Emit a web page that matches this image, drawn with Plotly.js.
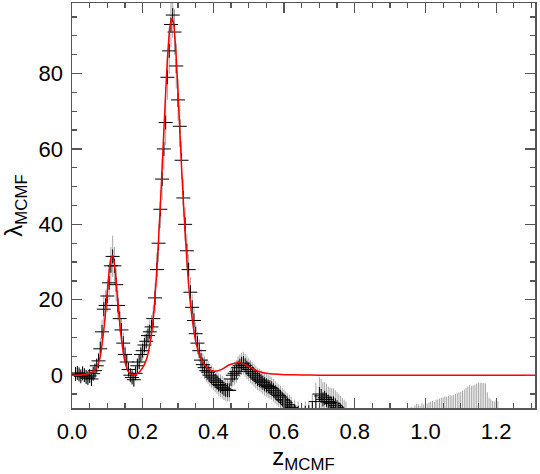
<!DOCTYPE html>
<html>
<head>
<meta charset="utf-8">
<script src="https://cdn.plot.ly/plotly-3.0.1.min.js"></script>
<style>
  body { margin: 0; background: #fff; }
  #plot { width: 540px; height: 474px; }
</style>
</head>
<body>
<div id="plot"></div>
<script>
// measured lambda_MCMF vs z (crosses with error bars)
const zObs = [
  0.010, 0.015, 0.020, 0.025, 0.030, 0.035, 0.040, 0.045, 0.050, 0.055,
  0.060, 0.065, 0.070, 0.075, 0.080, 0.085, 0.090, 0.095, 0.100, 0.105,
  0.110, 0.115, 0.120, 0.125, 0.130, 0.135, 0.140, 0.145, 0.150, 0.155,
  0.160, 0.165, 0.170, 0.175, 0.180, 0.185, 0.190, 0.195, 0.200, 0.205,
  0.210, 0.215, 0.220, 0.225, 0.230, 0.235, 0.240, 0.245, 0.250, 0.255,
  0.260, 0.265, 0.270, 0.275, 0.280, 0.285, 0.290, 0.295, 0.300, 0.305,
  0.310, 0.315, 0.320, 0.325, 0.330, 0.335, 0.340, 0.345, 0.350, 0.355,
  0.360, 0.365, 0.370, 0.375, 0.380, 0.385, 0.390, 0.395, 0.400, 0.405,
  0.410, 0.415, 0.420, 0.425, 0.430, 0.435, 0.440, 0.445, 0.450, 0.455,
  0.460, 0.465, 0.470, 0.475, 0.480, 0.485, 0.490, 0.495, 0.500, 0.505,
  0.510, 0.515, 0.520, 0.525, 0.530, 0.535, 0.540, 0.545, 0.550, 0.555,
  0.560, 0.565, 0.570, 0.575, 0.580, 0.585, 0.590, 0.595, 0.600, 0.605,
  0.610, 0.615, 0.620, 0.630, 0.640, 0.650, 0.660, 0.670, 0.680, 0.690,
  0.700, 0.705, 0.710, 0.715, 0.720, 0.725, 0.730, 0.735, 0.740, 0.745,
  0.750, 0.755, 0.760, 0.765, 0.770, 0.775
];
const lamObs = [
  0.3, 0.6, 0.2, -0.3, 0.5, 0.0, -0.5, -0.8, -0.2, -1.0,
  0.4, 1.2, 2.5, 3.8, 7.0, 11.5, 17.5, 18.5, 21.0, 24.5,
  29.0, 31.5, 29.0, 24.0, 18.5, 15.0, 12.0, 8.5, 5.5, 3.5,
  1.5, 0.0, -0.6, -1.2, 0.5, 2.5, 3.5, 5.5, 6.5, 8.0,
  9.0, 10.5, 11.5, 12.8, 15.0, 20.5, 28.0, 35.0, 44.0, 52.0,
  60.0, 67.0, 79.0, 86.0, 93.0, 95.5, 91.0, 82.0, 73.0, 66.0,
  57.0, 47.0, 40.0, 33.0, 28.0, 22.0, 18.0, 14.5, 11.0, 8.5,
  6.5, 4.0, 2.8, 2.0, 1.2, 0.8, 0.0, -0.5, -1.0, -1.5,
  -1.9, -2.5, -2.8, -3.2, -3.6, -3.9, -4.0, -4.0, -1.0, 0.0,
  0.5, 1.0, 2.0, 2.5, 3.0, 3.2, 2.6, 2.0, 1.5, 1.0,
  0.5, 0.0, -0.5, -1.0, -1.3, -1.6, -2.0, -2.4, -2.7, -3.0,
  -3.2, -3.5, -4.0, -4.5, -5.0, -5.4, -5.8, -6.4, -6.8, -7.3,
  -7.8, -8.2, -8.6, -9.5, -10.0, -10.5, -10.0, -9.8, -9.0, -7.0,
  -5.0, -5.5, -6.4, -6.0, -6.5, -7.0, -7.3, -7.5, -7.5, -8.0,
  -8.5, -9.0, -9.5, -10.0, -10.5, -11.0
];
const errObs = [
  1.5, 1.5, 1.5, 1.5, 1.5, 1.5, 1.5, 1.5, 1.6, 1.6,
  1.6, 1.8, 2.0, 2.2, 2.8, 3.2, 3.8, 4.0, 4.2, 4.5,
  5.0, 5.5, 5.0, 4.5, 4.0, 3.6, 3.2, 2.8, 2.4, 2.0,
  1.8, 1.6, 1.6, 1.6, 1.8, 2.0, 2.2, 2.4, 2.6, 2.8,
  3.0, 3.0, 3.2, 3.2, 3.5, 4.0, 4.5, 5.0, 5.0, 5.5,
  5.5, 6.0, 6.0, 6.0, 6.0, 6.0, 6.0, 6.0, 5.5, 5.5,
  5.0, 5.0, 4.5, 4.5, 4.0, 4.0, 3.5, 3.5, 3.0, 3.0,
  3.0, 3.0, 3.0, 3.0, 3.0, 3.0, 3.0, 3.0, 3.0, 3.0,
  3.0, 3.0, 3.0, 3.0, 3.0, 3.0, 3.0, 3.0, 3.0, 3.0,
  3.0, 3.0, 3.0, 3.0, 3.0, 3.0, 3.0, 3.0, 3.0, 3.0,
  3.0, 3.0, 3.0, 3.0, 3.0, 3.0, 3.0, 3.0, 3.0, 3.0,
  3.0, 3.0, 3.0, 3.0, 3.0, 3.0, 3.0, 3.0, 3.0, 3.0,
  3.0, 3.0, 3.0, 3.0, 3.0, 3.0, 3.0, 3.0, 4.0, 5.0,
  4.5, 4.5, 4.5, 4.2, 4.2, 4.0, 4.0, 4.0, 4.0, 4.0,
  4.0, 4.0, 4.0, 4.0, 4.0, 4.0
];

// high-z group: centres fall below the plot, only the bar tops show
const zFar = [
  0.960, 0.965, 0.970, 0.975, 0.980, 0.985, 0.990, 0.995, 1.000, 1.005,
  1.010, 1.015, 1.020, 1.025, 1.030, 1.035, 1.040, 1.045, 1.050, 1.055,
  1.060, 1.065, 1.070, 1.075, 1.080, 1.085, 1.090, 1.095, 1.100, 1.105,
  1.110, 1.115, 1.120, 1.125, 1.130, 1.135, 1.140, 1.145, 1.150, 1.155,
  1.160, 1.165, 1.170, 1.175, 1.180, 1.185, 1.190, 1.195, 1.200, 1.205
];
const lamFar = [
  -15, -15, -15, -15, -15, -15, -15, -15, -15, -15,
  -15, -15, -15, -15, -15, -15, -15, -15, -15, -15,
  -15, -15, -15, -15, -15, -15, -15, -15, -15, -15,
  -15, -15, -15, -15, -15, -15, -15, -15, -15, -15,
  -15, -15, -15, -15, -15, -15, -15, -15, -15, -15
];
const errFar = [
  6.6, 6.4, 7.0, 7.4, 7.3, 6.8, 7.6, 7.2, 8.4, 7.5,
  7.8, 8.0, 8.2, 7.9, 8.5, 8.6, 8.8, 9.0, 9.1, 9.4,
  9.2, 9.5, 9.7, 9.6, 9.8, 10.0, 10.2, 10.4, 10.6, 10.8,
  11.2, 11.6, 12.0, 12.4, 12.1, 12.3, 12.5, 12.8, 13.0, 13.0,
  13.0, 12.9, 12.8, 10.5, 9.0, 8.6, 8.2, 8.0, 8.4, 8.1
];

// red model curve
const zFit = [
  0.000, 0.030, 0.050, 0.060, 0.070, 0.080, 0.090, 0.100, 0.105, 0.110,
  0.115, 0.120, 0.125, 0.130, 0.140, 0.150, 0.160, 0.170, 0.180, 0.190,
  0.200, 0.210, 0.220, 0.230, 0.240, 0.250, 0.260, 0.270, 0.278, 0.283,
  0.288, 0.295, 0.300, 0.310, 0.320, 0.330, 0.340, 0.350, 0.360, 0.370,
  0.380, 0.390, 0.400, 0.410, 0.420, 0.430, 0.440, 0.450, 0.460, 0.470,
  0.480, 0.490, 0.500, 0.510, 0.520, 0.530, 0.550, 0.570, 0.600, 0.650,
  0.700, 0.800, 1.000, 1.310
];
const lamFit = [
  0.0, 0.1, 0.5, 1.0, 2.0, 5.0, 12.0, 22.0, 27.5, 31.0,
  31.8, 29.5, 25.0, 19.0, 9.5, 3.5, 0.8, 0.1, 0.2, 0.8,
  2.0, 4.0, 8.0, 15.0, 28.0, 45.0, 65.0, 84.0, 93.0, 94.6,
  93.0, 84.0, 75.0, 55.0, 38.0, 24.0, 15.0, 9.0, 5.5, 3.5,
  2.2, 1.4, 1.1, 1.1, 1.4, 1.9, 2.5, 2.9, 3.2, 3.3,
  3.2, 2.8, 2.3, 1.8, 1.3, 0.9, 0.5, 0.3, 0.15, 0.05,
  0.0, 0.0, 0.0, 0.0
];

const barColor = "rgba(0,0,0,0.35)";
const fontFamily = "Liberation Sans, Arial, sans-serif";

const data = [
  {
    x: zFar, y: lamFar, type: "scatter", mode: "markers",
    marker: { symbol: "cross-thin", size: 10, line: { color: "black", width: 1 } },
    error_y: { type: "data", array: errFar, visible: true, color: barColor, thickness: 1, width: 0 },
    showlegend: false
  },
  {
    x: zObs, y: lamObs, type: "scatter", mode: "markers",
    marker: { symbol: "cross-thin", size: 10, line: { color: "black", width: 1 } },
    error_y: { type: "data", array: errObs, visible: true, color: barColor, thickness: 1, width: 0 },
    showlegend: false
  },
  {
    x: zFit, y: lamFit, type: "scatter", mode: "lines",
    line: { color: "#ff0000", width: 1.5, shape: "spline", smoothing: 0.6 },
    showlegend: false
  }
];

const axisStyle = {
  showline: true, linecolor: "#555", linewidth: 1.5, mirror: "ticks",
  ticks: "inside", ticklen: 10, tickwidth: 1.2, tickcolor: "#555",
  showgrid: false, zeroline: false,
  tickfont: { family: fontFamily, size: 22, color: "#000" }
};

const layout = {
  width: 540, height: 474,
  margin: { l: 72, r: 5, t: 3, b: 66 },
  paper_bgcolor: "#fff", plot_bgcolor: "#fff",
  xaxis: Object.assign({}, axisStyle, {
    range: [0, 1.31], dtick: 0.2, tick0: 0, tickformat: ".1f",
    minor: { dtick: 0.05, ticks: "inside", ticklen: 5, tickcolor: "#555" },
    ticklabelstandoff: 3,
    title: { text: "z<sub>MCMF</sub>", font: { family: fontFamily, size: 24, color: "#000" }, standoff: 8 }
  }),
  yaxis: Object.assign({}, axisStyle, {
    range: [-8.7, 98.7], dtick: 20, tick0: 0,
    minor: { dtick: 5, ticks: "inside", ticklen: 5, tickcolor: "#555" },
    ticklabelstandoff: 3,
    title: { text: "λ<sub>MCMF</sub>", font: { family: fontFamily, size: 24, color: "#000" }, standoff: 10 }
  })
};

Plotly.newPlot("plot", data, layout, { staticPlot: true });
</script>
</body>
</html>
